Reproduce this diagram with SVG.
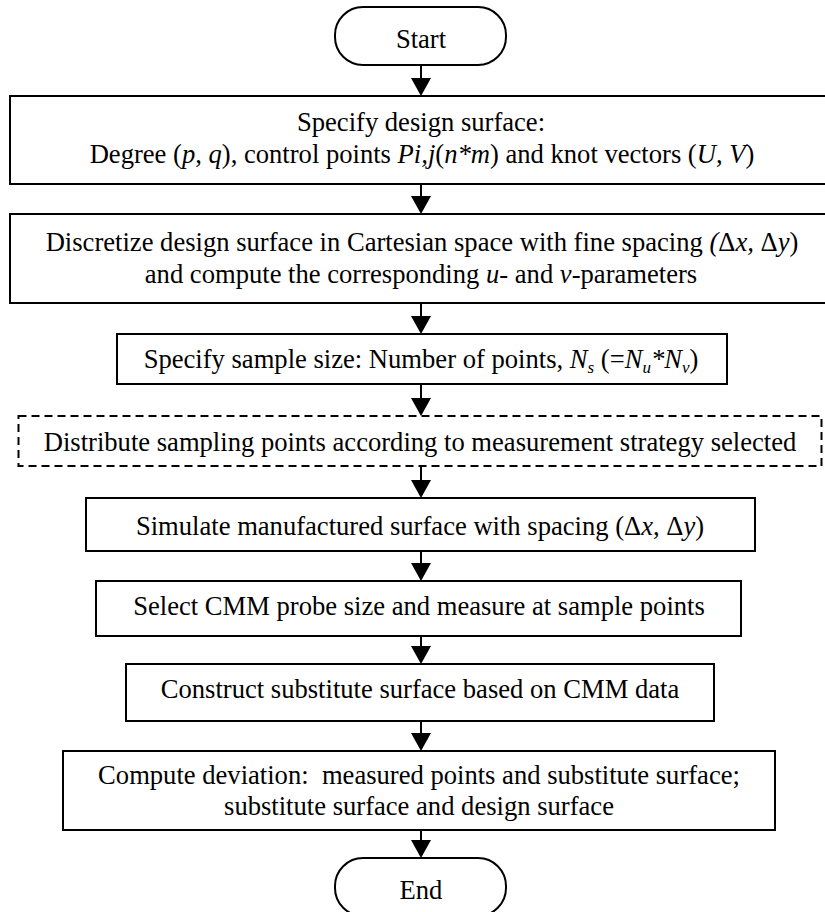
<svg xmlns="http://www.w3.org/2000/svg" width="825" height="912" viewBox="0 0 825 912">
<style>
  .box { fill: #ffffff; stroke: #000000; stroke-width: 2; }
  .dash { fill: #ffffff; stroke: #000000; stroke-width: 2; stroke-dasharray: 8 5; }
  text { font-family: 'Liberation Serif', 'Tinos', 'DejaVu Serif', serif; font-size: 26.6px; fill: #000000; text-anchor: middle; }
  .it { font-style: italic; }
  .sub { font-size: 17px; }
  .conn { stroke: #000000; stroke-width: 2; fill: none; marker-end: url(#arrow); }
</style>
<defs>
  <marker id="arrow" markerUnits="userSpaceOnUse" viewBox="0 0 18 20" markerWidth="18" markerHeight="20" refX="14" refY="10" orient="auto">
    <path d="M0,0 L18,10 L0,20 Z" fill="#000000"/>
  </marker>
</defs>
<rect width="825" height="912" fill="#ffffff"/>

<g id="connectors">
  <line class="conn" x1="421" y1="65" x2="421" y2="92"/>
  <line class="conn" x1="421" y1="184" x2="421" y2="210"/>
  <line class="conn" x1="421" y1="303" x2="421" y2="330"/>
  <line class="conn" x1="421" y1="384" x2="421" y2="412"/>
  <line class="conn" x1="421" y1="466" x2="421" y2="494"/>
  <line class="conn" x1="421" y1="551" x2="421" y2="577"/>
  <line class="conn" x1="421" y1="636" x2="421" y2="660"/>
  <line class="conn" x1="421" y1="721" x2="421" y2="747"/>
  <line class="conn" x1="421" y1="830" x2="421" y2="854"/>
</g>

<g id="start">
  <rect class="box" x="335" y="7" width="171" height="58" rx="28" ry="28"/>
  <text x="421" y="48">Start</text>
</g>

<g id="specify-design">
  <rect class="box" x="10" y="96" width="822" height="88"/>
  <text x="421" y="131">Specify design surface:</text>
  <text x="422" y="163">Degree (<tspan class="it">p</tspan>, <tspan class="it">q</tspan>), control points <tspan class="it">Pi,j</tspan>(<tspan class="it">n*m</tspan>) and knot vectors (<tspan class="it">U</tspan>, <tspan class="it">V</tspan>)</text>
</g>

<g id="discretize">
  <rect class="box" x="10" y="214" width="822" height="89"/>
  <text x="422" y="251">Discretize design surface in Cartesian space with fine spacing <tspan class="it">(</tspan>Δ<tspan class="it">x,</tspan> Δ<tspan class="it">y</tspan>)</text>
  <text x="421" y="283">and compute the corresponding <tspan class="it">u</tspan>- and <tspan class="it">v</tspan>-parameters</text>
</g>

<g id="sample-size">
  <rect class="box" x="117" y="334" width="610" height="50"/>
  <text x="421" y="368">Specify sample size: Number of points, <tspan class="it">N</tspan><tspan class="it sub" dy="5">s</tspan><tspan dy="-5"> (=</tspan><tspan class="it">N</tspan><tspan class="it sub" dy="5">u</tspan><tspan class="it" dy="-5">*N</tspan><tspan class="it sub" dy="5">v</tspan><tspan dy="-5">)</tspan></text>
</g>

<g id="distribute">
  <rect class="dash" x="18.5" y="416" width="803" height="50"/>
  <text x="420" y="451">Distribute sampling points according to measurement strategy selected</text>
</g>

<g id="simulate">
  <rect class="box" x="86" y="498" width="669" height="53"/>
  <text x="420" y="535">Simulate manufactured surface with spacing (Δ<tspan class="it">x</tspan>, Δ<tspan class="it">y</tspan>)</text>
</g>

<g id="select-cmm">
  <rect class="box" x="96" y="581" width="645" height="55"/>
  <text x="419" y="615">Select CMM probe size and measure at sample points</text>
</g>

<g id="construct">
  <rect class="box" x="126" y="664" width="588" height="57"/>
  <text x="420" y="698">Construct substitute surface based on CMM data</text>
</g>

<g id="compute">
  <rect class="box" x="63" y="751" width="712" height="79"/>
  <text x="419" y="784" xml:space="preserve">Compute deviation:  measured points and substitute surface;</text>
  <text x="419" y="815">substitute surface and design surface</text>
</g>

<g id="end">
  <rect class="box" x="335" y="858" width="171" height="58" rx="28" ry="28"/>
  <text x="421" y="899">End</text>
</g>
</svg>
